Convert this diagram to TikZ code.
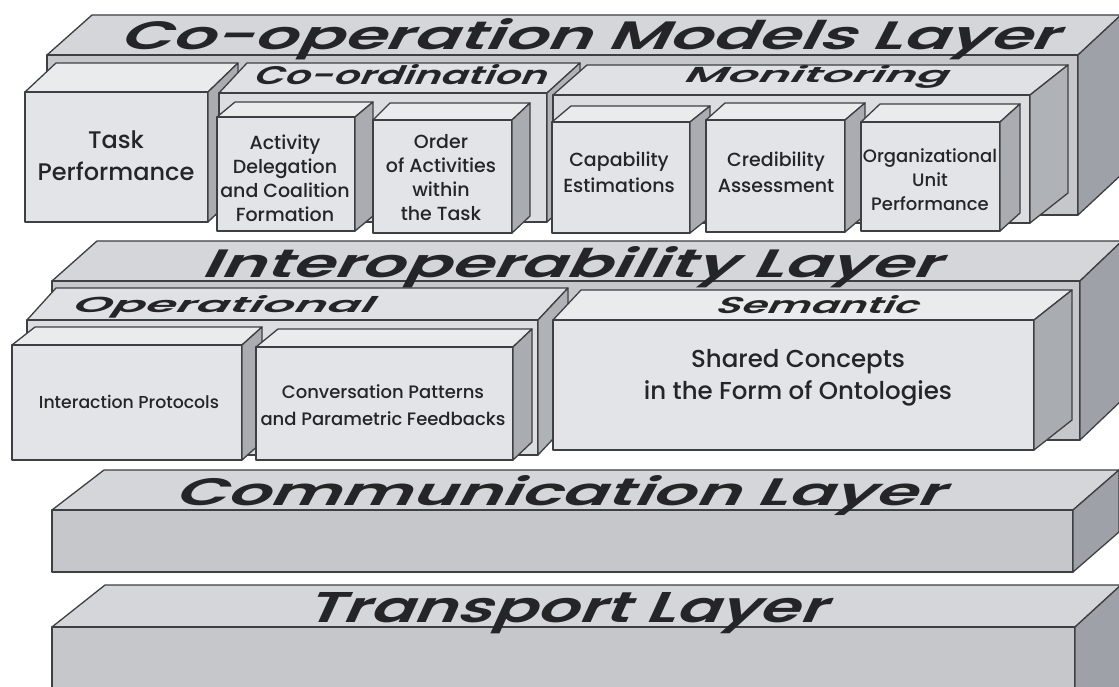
\documentclass[tikz,border=0pt]{standalone}
\usepackage{fontspec}
\usepackage{graphicx}
\newfontfamily\headfont{Poppins SemiBold}[FakeSlant=0.3]
\newfontfamily\labelfont{Poppins Medium}

\definecolor{edgegrey}{HTML}{3E3F42}
\definecolor{ink}{HTML}{252527}
\definecolor{layertop}{HTML}{D4D6DA}
\definecolor{layerfront}{HTML}{C5C7CB}
\definecolor{layerside}{HTML}{9EA2A8}
\definecolor{subtop}{HTML}{E0E1E4}
\definecolor{subfront}{HTML}{DCDDE0}
\definecolor{subside}{HTML}{AFB2B7}
\definecolor{boxtop}{HTML}{EAEBED}
\definecolor{boxfront}{HTML}{E3E4E7}
\definecolor{boxside}{HTML}{A9ACB1}

% A slab: front rectangle (x1,y1)-(x2,y2), top face pushed back by
% dxL (left), dxR (right) and dy; #8 selects the colour set.
\newcommand{\slab}[8]{%
  \filldraw[#8 top] (#1,#2) -- (#1+#5,#2-#7) -- (#3+#6,#2-#7) -- (#3,#2) -- cycle;
  \filldraw[#8 front] (#1,#2) rectangle (#3,#4);
  \filldraw[#8 side] (#3,#2) -- (#3+#6,#2-#7) -- (#3+#6,#4-#7) -- (#3,#4) -- cycle;
}
\newcommand{\headtext}[3]{\resizebox{#1}{#2}{\headfont #3}}

\begin{document}
\begin{tikzpicture}[x=1pt, y=-1pt, line join=round,
  edge/.style={draw=edgegrey, line width=1.3pt},
  layer top/.style={edge, fill=layertop},
  layer front/.style={edge, fill=layerfront},
  layer side/.style={edge, fill=layerside},
  sub top/.style={edge, fill=subtop},
  sub front/.style={edge, fill=subfront},
  sub side/.style={edge, fill=subside},
  box top/.style={edge, fill=boxtop},
  box front/.style={edge, fill=boxfront},
  box side/.style={edge, fill=boxside},
  head/.style={anchor=base west, inner sep=0pt, text=ink},
  lbl/.style={align=center, inner sep=0pt, text=ink},
]
\useasboundingbox (0,0) rectangle (1119,687);
\fill[white] (0,0) rectangle (1119,687);
\clip (0,0) rectangle (1119,687);

% ---- Co-operation Models Layer ----
\slab{47}{55}{1078}{215}{45}{43}{40}{layer}
\slab{25}{92}{208}{222}{31}{30}{29}{box}
\slab{219}{93}{547}{222}{28}{33}{30}{sub}
\slab{553}{95}{1030}{223}{34}{38}{30}{sub}
\slab{217}{117}{355}{231}{18}{18}{15}{box}
\slab{373}{120}{512}{233}{17}{18}{17}{box}
\slab{552}{122}{690}{233}{19}{20}{16}{box}
\slab{706}{120}{845}{232}{19}{20}{17}{box}
\slab{861}{122}{1000}{231}{19}{20}{18}{box}

\node[head] (coop) at (118,50) {\headtext{939pt}{31pt}{Co-operation Models Layer}};
\node[head] (coord) at (252,85) {\headtext{293pt}{20pt}{Co-ordination}};
\node[head] (monit) at (682,83) {\headtext{264pt}{17pt}{Monitoring}};

\node[lbl, font=\labelfont\fontsize{24}{32}\selectfont] (task) at (116,156) {Task\\Performance};
\node[lbl, font=\labelfont\fontsize{19}{24}\selectfont] (deleg) at (285,178) {Activity\\Delegation\\and Coalition\\Formation};
\node[lbl, font=\labelfont\fontsize{19}{24}\selectfont] (order) at (441,178) {Order\\of Activities\\within\\the Task};
\node[lbl, font=\labelfont\fontsize{19}{26}\selectfont] (capab) at (619,172) {Capability\\Estimations};
\node[lbl, font=\labelfont\fontsize{19}{26}\selectfont] (cred) at (776,172) {Credibility\\Assessment};
\node[lbl, font=\labelfont\fontsize{18}{24}\selectfont] (orgunit) at (930,180) {Organizational\\Unit\\Performance};

% ---- Interoperability Layer ----
\slab{52}{281}{1080}{440}{45}{42}{40}{layer}
\slab{27}{320}{538}{455}{29}{30}{32}{sub}
\slab{553}{320}{1034}{450}{28}{38}{30}{box}
\slab{12}{345}{242}{460}{23}{20}{18}{box}
\slab{256}{347}{513}{460}{22}{19}{18}{box}

\node[head] (interop) at (200,277) {\headtext{739pt}{31pt}{Interoperability Layer}};
\node[head] (oper) at (70,312) {\headtext{301pt}{17pt}{Operational}};
\node[head] (seman) at (714,313) {\headtext{203pt}{18pt}{Semantic}};

\node[lbl, font=\labelfont\fontsize{17.3}{24}\selectfont] (proto) at (129,402) {Interaction Protocols};
\node[lbl, font=\labelfont\fontsize{18}{27}\selectfont] (conv) at (383,405) {Conversation Patterns\\and Parametric Feedbacks};
\node[lbl, font=\labelfont\fontsize{24.5}{32}\selectfont] (onto) at (798,378) {Shared Concepts\\in the Form of Ontologies};

% ---- Communication Layer ----
\slab{52}{510}{1073}{572}{52}{46}{40}{layer}
\node[head] (comm) at (173,505) {\headtext{769pt}{30pt}{Communication Layer}};

% ---- Transport Layer ----
\slab{52}{627}{1075}{760}{53}{46}{42}{layer}
\node[head] (trans) at (304,622) {\headtext{520pt}{30pt}{Transport Layer}};
\end{tikzpicture}
\end{document}
